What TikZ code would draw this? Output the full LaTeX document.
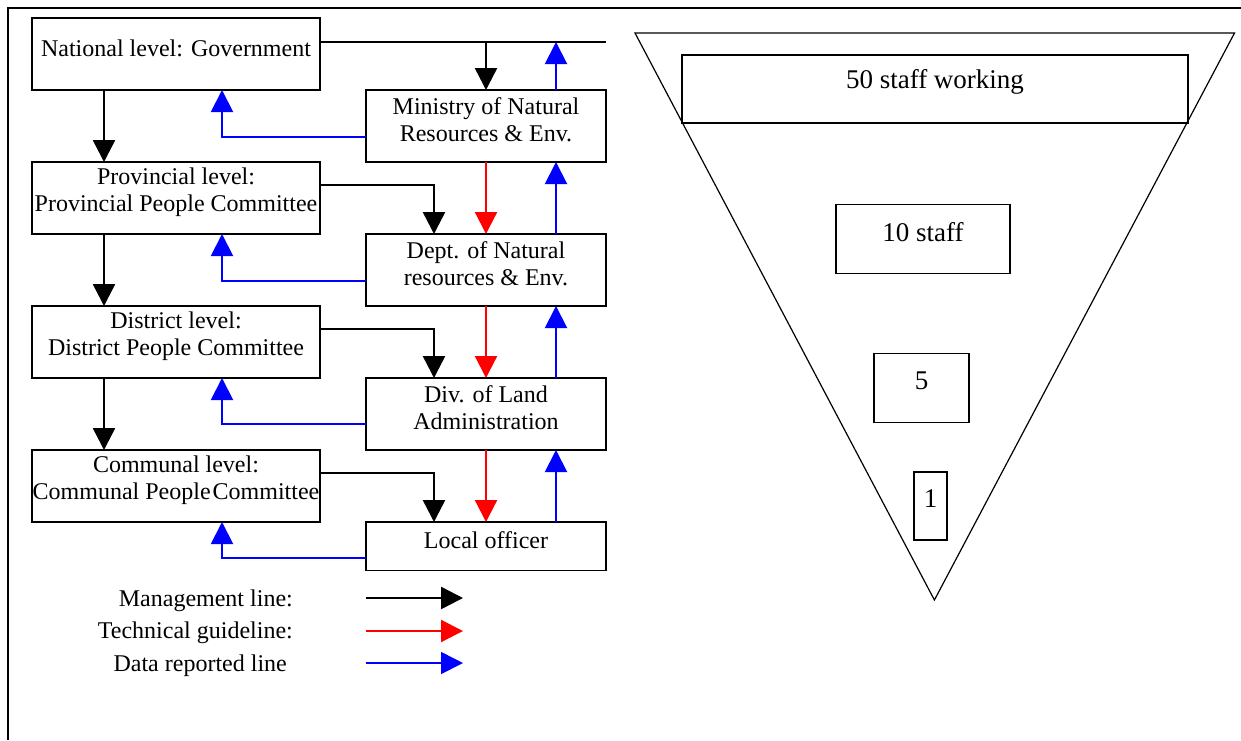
\documentclass[tikz,border=0pt]{standalone}
\usepackage{fontspec}
\setmainfont{Liberation Serif}
\usetikzlibrary{arrows.meta, positioning}

\begin{document}
\begin{tikzpicture}[
    x=1pt, y=-1pt,
    lbox/.style={rectangle, draw, line width=1.5pt, minimum width=288pt, minimum height=72pt, inner sep=0pt, outer sep=0pt},
    rbox/.style={rectangle, draw, line width=1.5pt, minimum width=240pt, minimum height=72pt, inner sep=0pt, outer sep=0pt},
    txt/.style={font=\fontsize{24}{27}\selectfont, align=center, inner sep=0pt, yshift=6pt},
    sbox/.style={rectangle, draw, line width=1.4pt, inner sep=0pt, outer sep=0pt},
    stxt/.style={font=\fontsize{27}{30}\selectfont, inner sep=0pt, yshift=7pt},
    legtxt/.style={font=\fontsize{24}{27}\selectfont, inner sep=0pt, anchor=base east},
    mgmt/.style={-{Triangle[length=22pt, width=22pt]}, line width=2.5pt, black},
    tech/.style={mgmt, line width=2.2pt, red},
    data/.style={mgmt, line width=2pt, blue}
]
    \useasboundingbox (0,0) rectangle (1241,740);
    \draw[line width=2.5pt] (8,740) -- (8,8) -- (1241,8);

    % Levels
    \node[lbox, label={[txt]center:{National level: Government}}] (nat) at (176,54) {};
    \node[lbox, below=72pt of nat, label={[txt]center:{Provincial level:\\Provincial People Committee}}] (prov) {};
    \node[lbox, below=72pt of prov, label={[txt]center:{District level:\\District People Committee}}] (dist) {};
    \node[lbox, below=72pt of dist, label={[txt]center:{Communal level:\\Communal People\hspace{2pt}Committee}}] (comm) {};

    % Land agencies
    \node[rbox, below right=0pt and 46pt of nat, label={[txt]center:{Ministry of Natural\\Resources \& Env.}}] (min) {};
    \node[rbox, below right=0pt and 46pt of prov, label={[txt]center:{Dept. of Natural\\resources \& Env.}}] (dep) {};
    \node[rbox, below right=0pt and 46pt of dist, label={[txt]center:{Div. of Land\\Administration}}] (div) {};
    \node[rbox, below right=0pt and 46pt of comm, minimum height=48.5pt, label={[txt]center:{Local officer}}] (loc) {};

    % Management lines
    \coordinate (topline) at ([yshift=12pt]nat.east);
    \draw[line width=1.5pt] (topline) -- (topline -| min.east);
    \draw[mgmt] (topline -| min.north) -- (min.north);
    \draw[mgmt] ([xshift=-72pt]nat.south) -- ([xshift=-72pt]prov.north);
    \draw[mgmt] ([xshift=-72pt]prov.south) -- ([xshift=-72pt]dist.north);
    \draw[mgmt] ([xshift=-72pt]dist.south) -- ([xshift=-72pt]comm.north);
    \draw[mgmt] ([yshift=13pt]prov.east) -| ([xshift=-52pt]dep.north);
    \draw[mgmt] ([yshift=13pt]dist.east) -| ([xshift=-52pt]div.north);
    \draw[mgmt] ([yshift=13pt]comm.east) -| ([xshift=-52pt]loc.north);

    % Technical guidelines
    \draw[tech] (min.south) -- (dep.north);
    \draw[tech] (dep.south) -- (div.north);
    \draw[tech] (div.south) -- (loc.north);

    % Data reported
    \draw[data] ([xshift=70pt]min.north) -- ([xshift=70pt]min.north |- topline);
    \draw[data] ([xshift=70pt]dep.north) -- ([xshift=70pt]min.south);
    \draw[data] ([xshift=70pt]div.north) -- ([xshift=70pt]dep.south);
    \draw[data] ([xshift=70pt]loc.north) -- ([xshift=70pt]div.south);
    \draw[data] ([yshift=-11pt]min.west) -| ([xshift=46pt]nat.south);
    \draw[data] ([yshift=-11pt]dep.west) -| ([xshift=46pt]prov.south);
    \draw[data] ([yshift=-10pt]div.west) -| ([xshift=46pt]dist.south);
    \draw[data] ([yshift=-12pt]loc.west) -| ([xshift=46pt]comm.south);

    % Legend
    \node[legtxt] (lmgmt) at (293,606) {Management line:};
    \node[legtxt] (ltech) at (293,638) {Technical guideline:};
    \node[legtxt] (ldata) at (287,671) {Data reported line};
    \coordinate (lm1) at (366,598);
    \coordinate (lm2) at (463,598);
    \coordinate (lt1) at (366,631);
    \coordinate (lt2) at (463,631);
    \coordinate (ld1) at (366,663);
    \coordinate (ld2) at (463,663);
    \draw[mgmt] (lm1) -- (lm2);
    \draw[tech] (lt1) -- (lt2);
    \draw[data, line width=1.6pt] (ld1) -- (ld2);

    % Staff funnel
    \draw[line width=1.2pt] (635,33) -- (1234.5,33) -- (934.4,600) -- cycle;
    \node[sbox, minimum width=506pt, minimum height=68pt, label={[stxt]center:{50 staff working}}] (s50) at (935,89) {};
    \node[sbox, minimum width=174pt, minimum height=68.6pt, label={[stxt]center:{10 staff}}] (s10) at (923,239) {};
    \node[sbox, minimum width=95pt, minimum height=69.5pt, label={[stxt]center:{5}}] (s5) at (921.5,388) {};
    \node[sbox, minimum width=32.7pt, minimum height=68.3pt, label={[stxt]center:{1}}] (s1) at (930.5,506) {};
\end{tikzpicture}
\end{document}
